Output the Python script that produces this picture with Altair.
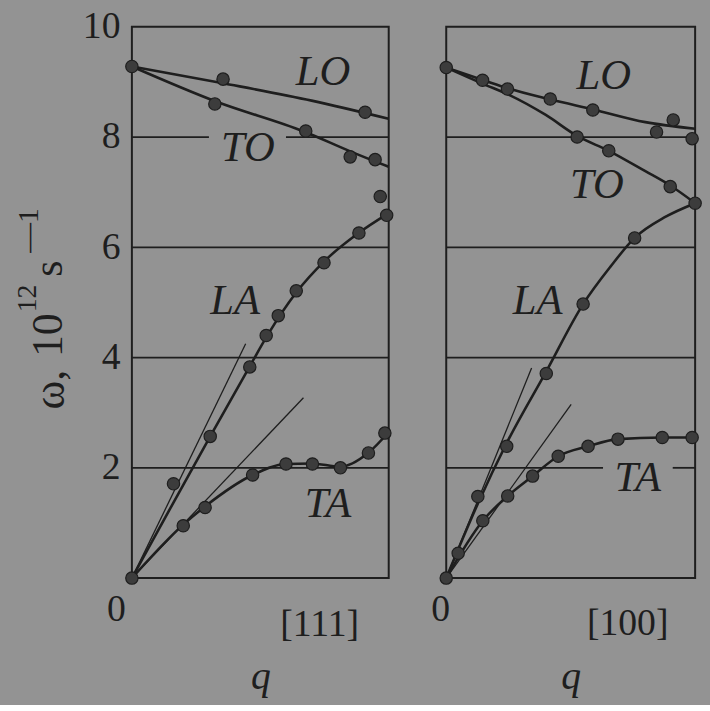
import altair as alt
import pandas as pd

BG = "#939393"
INK = "#1e1e1e"
DOT = "#3c3c3c"
FONT = "Liberation Serif"

# ---------------- Left panel: [111] ----------------
L_lo_q = [0, 0.35, 0.7, 1.0]
L_lo_w = [9.28, 8.98, 8.66, 8.33]
L_to_q = [0, 0.33, 0.67, 0.85, 1.0]
L_to_w = [9.28, 8.64, 8.1, 7.74, 7.46]
L_la_q = [0, 0.15, 0.305, 0.46, 0.53, 0.64, 0.75, 0.88, 1.0]
L_la_w = [0, 1.27, 2.57, 3.85, 4.42, 5.18, 5.75, 6.25, 6.62]
L_ta_q = [0, 0.2, 0.285, 0.47, 0.6, 0.7, 0.81, 0.92, 1.0]
L_ta_w = [0, 0.97, 1.3, 1.87, 2.07, 2.08, 2.02, 2.27, 2.65]
L_tan_la_q = [0, 0.443]
L_tan_la_w = [0, 4.25]
L_tan_ta_q = [0, 0.668]
L_tan_ta_w = [0, 3.27]
L_pts_q = [0, 0.355, 0.908, 0.323, 0.677, 0.85, 0.947, 0.967, 0.992, 0.884, 0.748,
           0.64, 0.57, 0.523, 0.459, 0.305, 0.162, 0, 0.2, 0.285, 0.47, 0.6, 0.703,
           0.812, 0.921, 0.985]
L_pts_w = [9.28, 9.05, 8.45, 8.6, 8.11, 7.64, 7.59, 6.92, 6.58, 6.26, 5.72,
           5.21, 4.76, 4.4, 3.83, 2.57, 1.71, 0, 0.95, 1.28, 1.87, 2.07, 2.07,
           2.0, 2.27, 2.63]
L_grid_w = [8, 8, 6, 4, 2]
L_grid_q1 = [0, 0.60, 0, 0, 0]
L_grid_q2 = [0.30, 1, 1, 1, 1]
L_lab_text = ["LO", "TO", "LA", "TA"]
L_lab_q = [0.744, 0.452, 0.402, 0.764]
L_lab_w = [9.17, 7.8, 5.02, 1.35]
L_dir = "[111]"
L_dir_q, L_dir_w = 0.731, -0.86

# ---------------- Right panel: [100] ----------------
R_lo_q = [0, 0.15, 0.25, 0.42, 0.59, 0.8, 1.0]
R_lo_w = [9.26, 9.03, 8.88, 8.68, 8.5, 8.27, 8.15]
R_to_q = [0, 0.15, 0.25, 0.4, 0.526, 0.653, 0.8, 0.9, 1.0]
R_to_w = [9.26, 8.96, 8.77, 8.4, 8.02, 7.75, 7.38, 7.12, 6.8]
R_la_q = [0, 0.127, 0.243, 0.402, 0.55, 0.66, 0.757, 0.88, 1.0]
R_la_w = [0, 1.35, 2.45, 3.75, 4.97, 5.65, 6.17, 6.55, 6.8]
R_ta_q = [0, 0.147, 0.247, 0.347, 0.45, 0.57, 0.69, 0.868, 1.0]
R_ta_w = [0, 1.04, 1.49, 1.85, 2.21, 2.39, 2.52, 2.55, 2.55]
R_tan_la_q = [0, 0.343]
R_tan_la_w = [0, 3.81]
R_tan_ta_q = [0, 0.502]
R_tan_ta_w = [0, 3.15]
R_pts_q = [0, 0.146, 0.246, 0.418, 0.589, 0.845, 0.912, 0.988, 0.526, 0.653, 0.9, 1.0,
           0.757, 0.55, 0.402, 0.243, 0.127, 0.048, 0, 0.147, 0.247, 0.347, 0.45, 0.57,
           0.69, 0.868, 0.988]
R_pts_w = [9.26, 9.03, 8.87, 8.69, 8.49, 8.09, 8.31, 7.97, 8.0, 7.75, 7.1, 6.8,
           6.17, 4.97, 3.71, 2.39, 1.48, 0.45, 0, 1.04, 1.49, 1.85, 2.21, 2.39,
           2.52, 2.55, 2.55]
R_grid_w = [8, 6, 4, 2, 2]
R_grid_q1 = [0, 0, 0, 0, 0.91]
R_grid_q2 = [1, 1, 1, 0.63, 1]
R_lab_text = ["LO", "TO", "LA", "TA"]
R_lab_q = [0.633, 0.605, 0.367, 0.77]
R_lab_w = [9.1, 7.12, 5.02, 1.82]
R_dir = "[100]"
R_dir_q, R_dir_w = 0.729, -0.83

Y_TICKS = [2, 4, 6, 8, 10]
# y-axis title pieces: "ω, 10^12 s^-1"
Y_TITLE_PARTS = ["ω,", "10", "12", "s", "—1"]


def curves_df(parts):
    rows = []
    for name, qs, ws in parts:
        for q, w in zip(qs, ws):
            rows.append({"q": q, "w": w, "s": name})
    return pd.DataFrame(rows)


def title_layers():
    # (text, pixel x of baseline, pixel y of start, font size) relative to plot
    specs = [
        (Y_TITLE_PARTS[0], -68, 386, 44),
        (Y_TITLE_PARTS[1], -70, 333, 44),
        (Y_TITLE_PARTS[2], -97, 288, 28),
        (Y_TITLE_PARTS[3], -70, 252, 42),
        (Y_TITLE_PARTS[4], -95, 228, 30),
    ]
    out = []
    for t, px, py, fs in specs:
        out.append(
            alt.Chart(pd.DataFrame({"t": [t]})).mark_text(
                font=FONT, fontSize=fs, color=INK, angle=270,
                align="left", baseline="alphabetic").encode(
                x=alt.value(px), y=alt.value(py), text="t:N"))
    return out


def panel(curves, tangents, pq, pw, gw, gq1, gq2, lt, lq, lw, dtext, dq, dw,
          width, show_y, label_dx):
    xs = alt.Scale(domain=[0, 1], nice=False, zero=False)
    ys = alt.Scale(domain=[0, 10], nice=False)
    xaxis = alt.Axis(values=[0], ticks=False, domain=False, grid=False,
                     labelFont=FONT, labelFontSize=38, labelColor=INK,
                     labelPadding=13, labelOffset=label_dx, labelFlush=False,
                     title="q", titleFont=FONT, titleFontSize=40,
                     titleFontStyle="italic", titleFontWeight="normal",
                     titleColor=INK, titlePadding=28)
    if show_y:
        yaxis = alt.Axis(values=Y_TICKS, ticks=False, domain=False, grid=False,
                         labelFont=FONT, labelFontSize=38, labelColor=INK,
                         labelPadding=12, labelFlush=False, title=None)
    else:
        yaxis = None
    X = alt.X("q:Q", scale=xs, axis=xaxis)
    Y = alt.Y("w:Q", scale=ys, axis=yaxis)

    gdf = pd.DataFrame({"w": gw, "q1": gq1, "q2": gq2})
    grid = alt.Chart(gdf).mark_rule(color=INK, strokeWidth=1.8).encode(
        x=alt.X("q1:Q", scale=xs, axis=xaxis), x2="q2:Q",
        y=alt.Y("w:Q", scale=ys, axis=yaxis))
    tan = alt.Chart(curves_df(tangents)).mark_line(color=INK, strokeWidth=1.3).encode(
        x=X, y=Y, detail="s:N")
    cur = alt.Chart(curves_df(curves)).mark_line(
        color=INK, strokeWidth=2.6, interpolate="monotone").encode(
        x=X, y=Y, detail="s:N")
    pts = alt.Chart(pd.DataFrame({"q": pq, "w": pw})).mark_circle(
        size=155, color=DOT, opacity=1, stroke=INK, strokeWidth=1.2).encode(x=X, y=Y)
    lab = alt.Chart(pd.DataFrame({"q": lq, "w": lw, "t": lt})).mark_text(
        font=FONT, fontSize=43, fontStyle="italic", color=INK,
        baseline="middle", align="center").encode(x=X, y=Y, text="t:N")
    dlab = alt.Chart(pd.DataFrame({"q": [dq], "w": [dw], "t": [dtext]})).mark_text(
        font=FONT, fontSize=38, color=INK, baseline="middle", align="center").encode(
        x=X, y=Y, text="t:N")
    layers = [grid, tan, cur, pts, lab, dlab]
    if show_y:
        layers += title_layers()
    return alt.layer(*layers).properties(width=width, height=556)


left = panel(
    [("LO", L_lo_q, L_lo_w), ("TO", L_to_q, L_to_w), ("LA", L_la_q, L_la_w),
     ("TA", L_ta_q, L_ta_w)],
    [("la", L_tan_la_q, L_tan_la_w), ("ta", L_tan_ta_q, L_tan_ta_w)],
    L_pts_q, L_pts_w, L_grid_w, L_grid_q1, L_grid_q2,
    L_lab_text, L_lab_q, L_lab_w, L_dir, L_dir_q, L_dir_w, 259, True, -16)

right = panel(
    [("LO", R_lo_q, R_lo_w), ("TO", R_to_q, R_to_w), ("LA", R_la_q, R_la_w),
     ("TA", R_ta_q, R_ta_w)],
    [("la", R_tan_la_q, R_tan_la_w), ("ta", R_tan_ta_q, R_tan_ta_w)],
    R_pts_q, R_pts_w, R_grid_w, R_grid_q1, R_grid_q2,
    R_lab_text, R_lab_q, R_lab_w, R_dir, R_dir_q, R_dir_w, 251, False, -6)

chart = alt.hconcat(left, right, spacing=58, bounds="flush").resolve_scale(
    x="independent", y="independent"
).properties(
    padding={"left": 13, "top": 4, "right": 5, "bottom": 5}
).configure(background=BG).configure_view(stroke=INK, strokeWidth=2)

chart.save("out.html", embed_options={"renderer": "svg", "actions": False})
